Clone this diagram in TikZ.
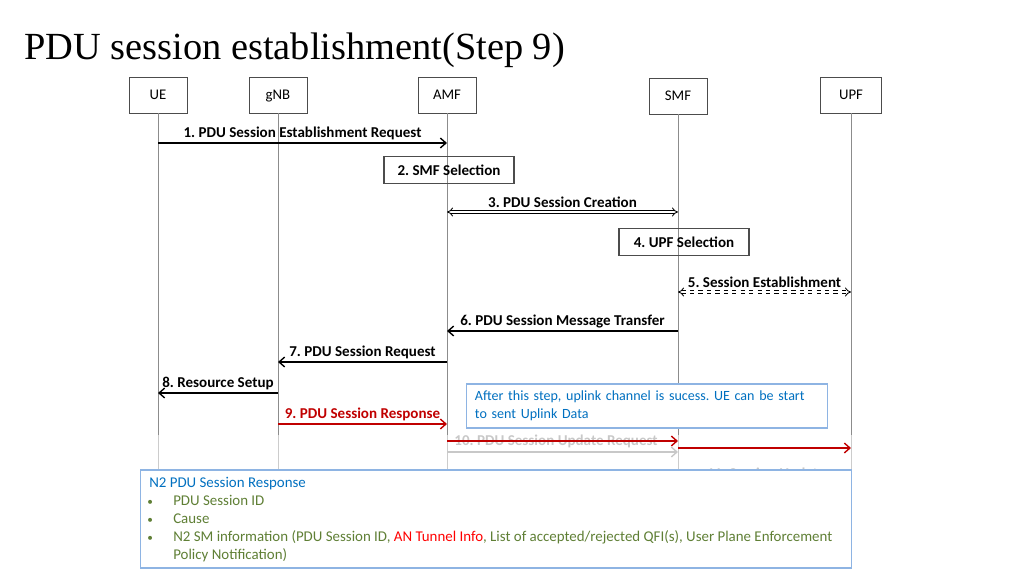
\documentclass[tikz,border=0pt]{standalone}
\usepackage{fontspec}
\setmainfont{Carlito}
\newfontfamily\titlefont{Liberation Serif}
\usetikzlibrary{arrows.meta,positioning}
\frenchspacing

\definecolor{noteblue}{HTML}{0070C0}
\definecolor{noteframe}{HTML}{8EB4E3}
\definecolor{itemgreen}{HTML}{5F7F35}
\definecolor{msgred}{HTML}{C00000}
\definecolor{fadegray}{HTML}{C8C8C8}
\definecolor{lifegray}{HTML}{8C8C8C}

\tikzset{
  head/.style={draw=black!70, minimum width=1.45cm, minimum height=0.9cm,
    inner sep=0pt, text height=1.6ex, text depth=0.4ex,
    font=\fontsize{10.5}{12}\selectfont},
  life/.style={draw=lifegray, line width=0.6pt},
  lifefade/.style={draw=black!20, line width=0.6pt},
  stepbox/.style={draw=black!70, line width=0.8pt, minimum width=3.25cm,
    minimum height=0.675cm, inner sep=0pt, font=\fontsize{10.7}{12}\selectfont\bfseries},
  msg/.style={line width=1pt, -{Straight Barb[length=4pt,width=7pt]}},
  msglabel/.style={above, inner sep=1.5pt, font=\fontsize{10.7}{12}\selectfont\bfseries},
  dbl/.style={double, double distance=1.6pt, line width=0.6pt, {Implies}-{Implies}},
  itemtext/.style={anchor=base west, inner sep=0pt, text=itemgreen,
    font=\fontsize{10.6}{12}\selectfont}
}

\begin{document}
\begin{tikzpicture}[x=0.025cm, y=-0.025cm]
    \useasboundingbox (0,0) rectangle (1024,576);

    % Titulo
    \node[anchor=base west, inner sep=0pt, font=\titlefont\fontsize{27.3}{30}\selectfont]
        (title) at (24,60) {PDU session establishment(Step 9)};

    % Cabeceras
    \node[head] (ue)  at (158,95) {UE};
    \node[head] (gnb) at (278,95) {gNB};
    \node[head] (amf) at (447,95) {AMF};
    \node[head] (smf) at (678,96) {SMF};
    \node[head, minimum width=1.525cm] (upf) at (851,95) {UPF};

    % Lineas de vida
    \foreach \n in {ue,gnb,amf,smf,upf} {
        \draw[life] (\n.south) -- (\n |- 0,435);
        \draw[lifefade] (\n |- 0,435) -- (\n |- 0,470);
    }

    % Mensajes
    \draw[msg] (ue |- 0,143) -- node[msglabel] (l1) {1. PDU Session Establishment Request} (amf |- 0,143);
    \node[stepbox] (sel2) at (449,170) {2. SMF Selection};
    \draw[dbl] (amf |- 0,212) -- node[msglabel, yshift=1pt] (l3) {3. PDU Session Creation} (smf |- 0,212);
    \node[stepbox] (sel4) at (684,242) {4. UPF Selection};
    \draw[dbl, dashed] (smf |- 0,292) -- node[msglabel, yshift=1pt] (l5) {5. Session Establishment} (upf |- 0,292);
    \draw[msg] (smf |- 0,331) -- node[msglabel] (l6) {6. PDU Session Message Transfer} (amf |- 0,331);
    \draw[msg] (amf |- 0,362) -- node[msglabel] (l7) {7. PDU Session Request} (gnb |- 0,362);
    \draw[msg] (gnb |- 0,393) -- node[msglabel] (l8) {8. Resource Setup} (ue |- 0,393);
    \draw[msg, msgred] (gnb |- 0,424) -- node[msglabel, text=msgred] (l9) {9. PDU Session Response} (amf |- 0,424);

    % Nota
    \node[draw=noteframe, line width=0.8pt, fill=white, text=noteblue, align=left,
          text width=8.6cm, minimum height=1.1cm, inner xsep=6pt,
          font=\fontsize{10}{12.5}\selectfont] (note) at (647,406)
        {After this step, uplink channel is sucess. UE can be start\\to sent Uplink Data};

    % Pasos siguientes (difuminados)
    \node[text=fadegray, font=\fontsize{10.7}{12}\selectfont\bfseries] (l10) at (556,441) {10. PDU Session Update Request};
    \draw[msg, msgred] (amf |- 0,441) -- (smf |- 0,441);
    \draw[msg, fadegray] (amf |- 0,452) -- (smf |- 0,452);
    \draw[msg, msgred] (smf |- 0,448) -- (upf |- 0,448);
    \node[text=fadegray, font=\fontsize{10.7}{12}\selectfont\bfseries] (l11) at (766,474) {11. Session Update};

    % Recuadro inferior
    \node[draw=noteframe, line width=0.8pt, fill=white, minimum width=17.75cm,
          minimum height=2.45cm, inner sep=0pt] (info) at (496,519) {};
    \node[anchor=base west, inner sep=0pt, text=noteblue, font=\fontsize{10.6}{12}\selectfont]
        (n2) at (149,487) {N2 PDU Session Response};
    \foreach \y/\nm in {505/b1, 523/b2, 541/b3}
        \node[itemtext, font=\fontsize{8}{10}\selectfont] (\nm) at (147,\y) {\textbullet};
    \node[itemtext] (i1) at (173,505) {PDU Session ID};
    \node[itemtext] (i2) at (173,523) {Cause};
    \node[itemtext] (i3) at (173,541) {N2 SM information (PDU Session ID, \textcolor{red}{AN Tunnel Info}, List of accepted/rejected QFI(s), User Plane Enforcement};
    \node[itemtext] (i4) at (173,559) {Policy Notification)};
\end{tikzpicture}
\end{document}
